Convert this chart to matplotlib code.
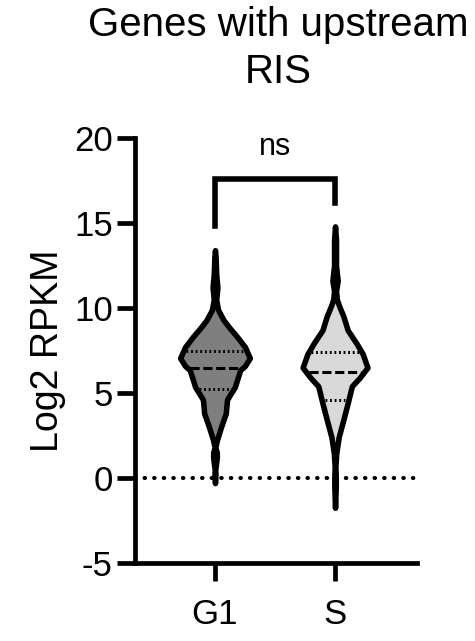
import numpy as np
import matplotlib
matplotlib.use("Agg")
import matplotlib.pyplot as plt

plt.rcParams["font.family"] = ["Liberation Sans", "DejaVu Sans"]
plt.rcParams["axes.unicode_minus"] = False

# ── Data ──────────────────────────────────────────────────────────────────────
groups = ["G1", "S"]
fills = ["#7f7f7f", "#d9d9d9"]

# violin outlines: y levels (Log2 RPKM) and half-widths (x units)
g1_y = [13.4, 13.0, 12.0, 11.2, 10.5, 9.9, 9.3, 8.8, 8.3, 7.7, 7.06, 6.6, 6.35,
        5.8, 5.35, 4.9, 4.6, 3.8, 3.0, 2.2, 1.8, 1.5, 1.2, 0.8, 0.5, 0.2, -0.3]
g1_w = [0.0, 0.005, 0.01, 0.02, 0.01, 0.025, 0.07, 0.125, 0.185, 0.25, 0.29,
        0.25, 0.21, 0.185, 0.165, 0.125, 0.1, 0.09, 0.05, 0.015, 0.003, 0.015,
        0.015, 0.008, 0.002, 0.004, 0.0]
s_y = [14.8, 14.0, 12.5, 11.6, 11.0, 10.5, 10.1, 9.5, 8.7, 7.9, 7.3, 6.5, 5.9,
       5.4, 4.4, 3.4, 2.4, 1.45, 0.65, 0.0, -0.5, -1.75]
s_w = [0.0, 0.008, 0.008, 0.022, 0.008, 0.015, 0.035, 0.07, 0.105, 0.18, 0.23,
       0.27, 0.205, 0.14, 0.105, 0.068, 0.03, 0.01, 0.003, 0.006, 0.006, 0.0]

q1 = [5.24, 4.6]
medians = [6.49, 6.25]
q3 = [7.47, 7.4]

title = "Genes with upstream\nRIS"
ylabel = "Log2 RPKM"
sig_label = "ns"

# ── Figure ────────────────────────────────────────────────────────────────────
fig = plt.figure(figsize=(4.75, 6.41), dpi=100)
ax = fig.add_axes([0.284, 0.1217, 0.594, 0.663])

profiles = [(g1_y, g1_w), (s_y, s_w)]
for i, ((ys, ws), col) in enumerate(zip(profiles, fills)):
    pos = i + 1
    ys = np.array(ys)
    ws = np.array(ws)
    ax.fill_betweenx(ys, pos - ws, pos + ws, facecolor=col, edgecolor="black",
                     linewidth=4, joinstyle="round", capstyle="round", zorder=3)
    # quartile lines span the violin at that level
    order = np.argsort(ys)
    for val, ls, lw in [(q1[i], (0, (0.6, 0.9)), 2.2), (q3[i], (0, (0.6, 0.9)), 2.2),
                        (medians[i], (0, (3, 1.2)), 2.2)]:
        hw = np.interp(val, ys[order], ws[order]) - 0.025
        ax.plot([pos - hw, pos + hw], [val, val], color="black", linestyle=ls,
                linewidth=lw, zorder=4)

# zero reference line
ax.axhline(0, color="black", linestyle=(0, (0.1, 2.2)), linewidth=3,
           dash_capstyle="round", zorder=2)

# significance bracket
ax.plot([1, 1, 2, 2], [14.8, 17.6, 17.6, 16.2], color="black", linewidth=4,
        solid_joinstyle="miter", zorder=5)
ax.text(1.5, 18.6, sig_label, ha="center", va="bottom", fontsize=22)

ax.set_xlim(0.333, 2.683)
ax.set_ylim(-5, 20)
ax.set_yticks([-5, 0, 5, 10, 15, 20])
ax.set_xticks([1, 2])
ax.set_xticklabels(groups)
ax.tick_params(axis="both", labelsize=25, width=3.4, length=13, color="black")
ax.tick_params(axis="y", pad=3)
ax.tick_params(axis="x", pad=12)
ax.set_ylabel(ylabel, fontsize=27, labelpad=6)
for s in ["top", "right"]:
    ax.spines[s].set_visible(False)
for s in ["left", "bottom"]:
    ax.spines[s].set_linewidth(3.4)

fig.text(0.585, 0.99, title, ha="center", va="top", fontsize=29,
         linespacing=1.3)

fig.savefig("out.png", dpi=100)
